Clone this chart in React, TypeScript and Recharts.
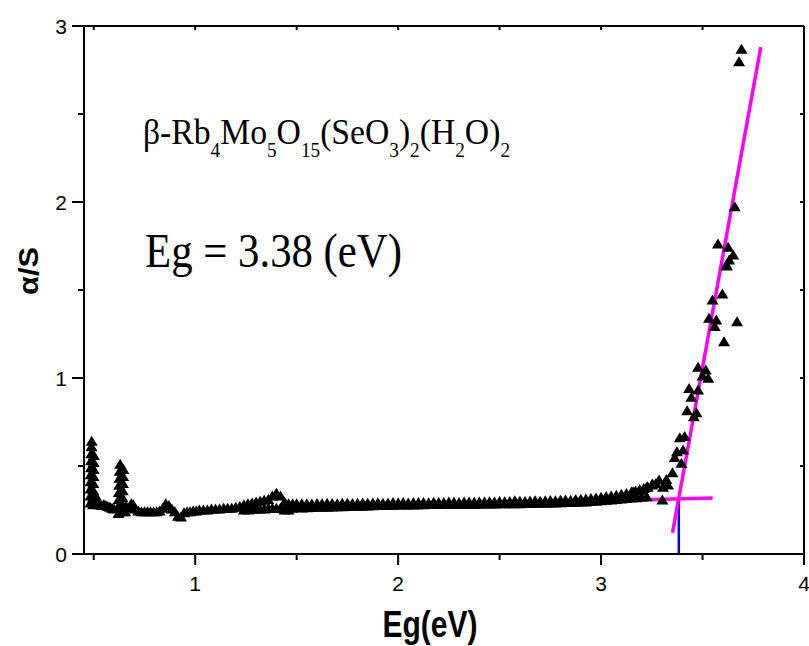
import { ReferenceLine, Scatter, ScatterChart, XAxis, YAxis } from "recharts";

// #region Data
const spikeEg = [
  0.484, 0.484, 0.484, 0.484, 0.485, 0.486, 0.487, 0.488, 0.489, 0.49,
  0.497, 0.497, 0.498, 0.498, 0.499, 0.5, 0.5, 0.501, 0.506, 0.51,
  0.622, 0.622, 0.623, 0.624, 0.625, 0.627, 0.628, 0.63,
  0.64, 0.641, 0.642, 0.643, 0.644, 0.645, 0.646, 0.655, 0.66,
];
const spikeAlpha = [
  0.29, 0.33, 0.37, 0.41, 0.45, 0.49, 0.53, 0.57, 0.61, 0.64,
  0.28, 0.32, 0.36, 0.4, 0.44, 0.48, 0.52, 0.56, 0.3, 0.33,
  0.23, 0.27, 0.31, 0.35, 0.39, 0.43, 0.47, 0.51,
  0.24, 0.28, 0.32, 0.36, 0.4, 0.44, 0.48, 0.24, 0.27,
];

const baseEg = [
  0.515, 0.52, 0.53, 0.54, 0.55, 0.56, 0.57, 0.58, 0.59, 0.6,
  0.675, 0.685, 0.695, 0.705, 0.72, 0.735, 0.75, 0.765, 0.78, 0.795,
  0.81, 0.825, 0.84, 0.855, 0.87, 0.885, 0.9, 0.915, 0.93, 0.945,
  0.96, 0.975, 0.99, 1.005, 1.02, 1.04, 1.06, 1.08, 1.1, 1.12,
  1.14, 1.16, 1.18, 1.2, 1.22,
  1.24, 1.24, 1.26, 1.26, 1.28, 1.28, 1.3, 1.3, 1.32, 1.32, 1.34, 1.34,
  1.36, 1.36, 1.38, 1.38, 1.4, 1.4, 1.42, 1.42, 1.44, 1.44, 1.46, 1.46,
  1.48, 1.48, 1.5, 1.5,
];
const baseAlpha = [
  0.29, 0.285, 0.28, 0.275, 0.28, 0.275, 0.27, 0.265, 0.26, 0.255,
  0.26, 0.285, 0.28, 0.255, 0.245, 0.24, 0.24, 0.24, 0.24, 0.24,
  0.24, 0.245, 0.26, 0.285, 0.275, 0.255, 0.24, 0.215, 0.21, 0.235,
  0.24, 0.24, 0.245, 0.245, 0.25, 0.25, 0.25, 0.255, 0.255, 0.255,
  0.26, 0.26, 0.26, 0.265, 0.27,
  0.25, 0.28, 0.25, 0.285, 0.255, 0.29, 0.255, 0.295, 0.255, 0.3, 0.255, 0.305,
  0.26, 0.31, 0.26, 0.33, 0.26, 0.345, 0.26, 0.33, 0.25, 0.295, 0.25, 0.285,
  0.26, 0.285, 0.265, 0.285,
];

const flatEg = [
  1.525, 1.55, 1.575, 1.6, 1.625, 1.65, 1.675, 1.7, 1.725, 1.75,
  1.775, 1.8, 1.825, 1.85, 1.875, 1.9, 1.925, 1.95, 1.975, 2.0,
  2.025, 2.05, 2.075, 2.1, 2.125, 2.15, 2.175, 2.2, 2.225, 2.25,
  2.275, 2.3, 2.325, 2.35, 2.375, 2.4, 2.425, 2.45, 2.475, 2.5,
  2.525, 2.55, 2.575, 2.6, 2.625, 2.65, 2.675, 2.7, 2.725, 2.75,
  2.775, 2.8, 2.825, 2.85, 2.875, 2.9, 2.925, 2.95, 2.975, 3.0,
];
const flatUpper = [
  0.285, 0.286, 0.284, 0.287, 0.286, 0.288, 0.287, 0.286, 0.288, 0.289,
  0.287, 0.289, 0.29, 0.288, 0.29, 0.291, 0.289, 0.29, 0.292, 0.291,
  0.292, 0.29, 0.293, 0.292, 0.293, 0.291, 0.294, 0.293, 0.292, 0.295,
  0.294, 0.293, 0.295, 0.296, 0.294, 0.296, 0.295, 0.297, 0.296, 0.298,
  0.297, 0.299, 0.302, 0.3, 0.299, 0.301, 0.302, 0.3, 0.303, 0.304,
  0.303, 0.306, 0.307, 0.306, 0.309, 0.311, 0.312, 0.315, 0.318, 0.322,
];
const flatLower = [
  0.262, 0.263, 0.264, 0.265, 0.266, 0.266, 0.267, 0.268, 0.269, 0.27,
  0.271, 0.271, 0.272, 0.273, 0.274, 0.275, 0.275, 0.276, 0.277, 0.278,
  0.278, 0.279, 0.279, 0.28, 0.28, 0.281, 0.281, 0.281, 0.282, 0.282,
  0.282, 0.282, 0.283, 0.283, 0.283, 0.283, 0.284, 0.284, 0.284, 0.285,
  0.285, 0.285, 0.286, 0.286, 0.287, 0.287, 0.288, 0.288, 0.289, 0.29,
  0.29, 0.291, 0.292, 0.293, 0.294, 0.295, 0.296, 0.298, 0.3, 0.302,
];

const riseEg = [
  3.025, 3.05, 3.075, 3.1, 3.125, 3.15, 3.17, 3.19, 3.21, 3.23, 3.25, 3.27,
  3.025, 3.05, 3.075, 3.1, 3.125, 3.15, 3.175, 3.2, 3.225,
  3.158, 3.191, 3.224, 3.253, 3.286, 3.302, 3.305, 3.322, 3.33, 3.352,
  3.363, 3.374, 3.388, 3.396, 3.404, 3.412, 3.424, 3.434, 3.445, 3.457,
  3.47, 3.478, 3.478, 3.5, 3.516, 3.528, 3.532, 3.549, 3.56, 3.568,
  3.576, 3.598, 3.606, 3.618, 3.62, 3.626, 3.631, 3.651, 3.659, 3.67,
  3.68, 3.692,
];
const riseAlpha = [
  0.326, 0.33, 0.334, 0.34, 0.344, 0.352, 0.358, 0.364, 0.372, 0.38, 0.392, 0.4,
  0.305, 0.307, 0.31, 0.312, 0.315, 0.318, 0.32, 0.322, 0.325,
  0.354, 0.364, 0.379, 0.398, 0.42, 0.307, 0.379, 0.424, 0.392, 0.462,
  0.549, 0.581, 0.661, 0.515, 0.591, 0.667, 0.814, 0.941, 0.89, 0.78,
  0.803, 1.061, 0.932, 1.011, 1.045, 0.998, 1.339, 1.443, 1.292, 1.33,
  1.761, 1.477, 1.206, 1.642, 1.636, 1.743, 1.67, 1.699, 1.973, 1.32,
  2.797, 2.868,
];

// fitted lines and the band gap marker
const baselineFit = [
  { x: 1.03, y: 0.245 },
  { x: 3.55, y: 0.318 },
];
const edgeFit = [
  { x: 3.352, y: 0.121 },
  { x: 3.787, y: 2.88 },
];
const gapMark = [
  { x: 3.383, y: 0 },
  { x: 3.383, y: 0.313 },
];

const xTicks = [0.5, 1, 1.5, 2, 2.5, 3, 3.5, 4];
const yTicks = [0, 0.5, 1, 1.5, 2, 2.5, 3];
// #endregion

const xDomain = [0.452, 4];
const yDomain = [0, 3];

// plot box (same numbers as the chart margins below)
const plot = { left: 84, top: 26, width: 720, height: 528 };
const xPerPx = (xDomain[1] - xDomain[0]) / plot.width;
const yPerPx = (yDomain[1] - yDomain[0]) / plot.height;
const tickX = (v: number) => plot.left + (v - xDomain[0]) / xPerPx;
const tickY = (v: number) => plot.top + (yDomain[1] - v) / yPerPx;

const toPoints = (xs: number[], ys: number[]) =>
  xs.map((eg, i) => ({ eg, alpha: ys[i] }));

const triangle = (props: any) => {
  const { cx, cy } = props;
  return (
    <polygon
      points={`${cx},${cy - 5.5} ${cx - 6},${cy + 4.5} ${cx + 6},${cy + 4.5}`}
      fill="#000"
    />
  );
};

const sans = "'Liberation Sans', Arial, sans-serif";
const serif = "'Liberation Serif', 'Times New Roman', serif";
const axisStroke = { stroke: "#000", strokeWidth: 2 };

const XLabel = ({ x, y, payload }: any) =>
  Number.isInteger(payload.value) ? (
    <text x={x} y={y + 37} textAnchor="middle" fontSize={21} fontFamily={sans} fill="#000">
      {payload.value}
    </text>
  ) : (
    <g />
  );

const YLabel = ({ x, y, payload }: any) =>
  Number.isInteger(payload.value) ? (
    <text x={x - 17} y={y + 8} textAnchor="end" fontSize={21} fontFamily={sans} fill="#000">
      {payload.value}
    </text>
  ) : (
    <g />
  );

const innerTick = (key: string, a: { x: number; y: number }, b: { x: number; y: number }) => (
  <ReferenceLine key={key} segment={[a, b]} ifOverflow="visible" stroke="#000" strokeWidth={2} />
);

const App = () => (
  <div style={{ position: "absolute", left: 0, top: 0, width: 809, height: 646, background: "#fff" }}>
    <ScatterChart width={809} height={646} margin={{ top: 26, right: 5, bottom: 62, left: 54 }}>
      <XAxis
        type="number"
        dataKey="eg"
        domain={xDomain}
        ticks={xTicks}
        height={30}
        tickSize={0}
        tickMargin={0}
        tickLine={false}
        tick={<XLabel />}
        axisLine={axisStroke}
      />
      <YAxis
        type="number"
        dataKey="alpha"
        domain={yDomain}
        ticks={yTicks}
        width={30}
        tickSize={0}
        tickMargin={0}
        tickLine={false}
        tick={<YLabel />}
        axisLine={axisStroke}
      />
      <Scatter data={toPoints(spikeEg, spikeAlpha)} shape={triangle} isAnimationActive={false} />
      <Scatter data={toPoints(baseEg, baseAlpha)} shape={triangle} isAnimationActive={false} />
      <Scatter data={toPoints(flatEg, flatUpper)} shape={triangle} isAnimationActive={false} />
      <Scatter data={toPoints(flatEg, flatLower)} shape={triangle} isAnimationActive={false} />
      <Scatter data={toPoints(riseEg, riseAlpha)} shape={triangle} isAnimationActive={false} />
      <ReferenceLine segment={gapMark} stroke="#0000ff" strokeWidth={2.5} />
      <ReferenceLine segment={baselineFit} stroke="#ff00ff" strokeWidth={3.5} />
      <ReferenceLine segment={edgeFit} stroke="#ff00ff" strokeWidth={3.5} />

      {/* frame: top and right edges with small inner ticks */}
      <ReferenceLine y={3} stroke="#000" strokeWidth={2} />
      <ReferenceLine x={4} stroke="#000" strokeWidth={2} />
      {xTicks.map((v) => innerTick(`xt${v}`, { x: v, y: 3 }, { x: v, y: 3 - 4 * yPerPx }))}
      {yTicks.map((v) => innerTick(`yr${v}`, { x: 4, y: v }, { x: 4 - 4 * xPerPx, y: v }))}
    </ScatterChart>
    <svg
      width={809}
      height={646}
      style={{ position: "absolute", left: 0, top: 0, pointerEvents: "none" }}
    >
      {/* outer tick marks of the bottom and left axes */}
      {xTicks.map((v) => (
        <line
          key={`xb${v}`}
          x1={tickX(v)}
          x2={tickX(v)}
          y1={plot.top + plot.height}
          y2={plot.top + plot.height + (Number.isInteger(v) ? 11 : 6)}
          stroke="#000"
          strokeWidth={2}
        />
      ))}
      {yTicks.map((v) => (
        <line
          key={`yl${v}`}
          x1={plot.left - (Number.isInteger(v) ? 12 : 6)}
          x2={plot.left}
          y1={tickY(v)}
          y2={tickY(v)}
          stroke="#000"
          strokeWidth={2}
        />
      ))}
      <text
        x={38}
        y={271}
        transform="rotate(-90 38 271)"
        textAnchor="middle"
        fontSize={28}
        fontWeight="bold"
        fontFamily={sans}
        textLength={48}
        lengthAdjust="spacingAndGlyphs"
      >
        α/S
      </text>
      <text
        x={430}
        y={637}
        textAnchor="middle"
        fontSize={36}
        fontWeight="bold"
        fontFamily={sans}
        textLength={95}
        lengthAdjust="spacingAndGlyphs"
      >
        Eg(eV)
      </text>
      <text x={143} y={144} fontSize={35} fontFamily={serif} textLength={367} lengthAdjust="spacingAndGlyphs">
        β-Rb<tspan fontSize={20} dy={13}>4</tspan>
        <tspan dy={-13}>Mo</tspan>
        <tspan fontSize={20} dy={13}>5</tspan>
        <tspan dy={-13}>O</tspan>
        <tspan fontSize={20} dy={13}>15</tspan>
        <tspan dy={-13}>(SeO</tspan>
        <tspan fontSize={20} dy={13}>3</tspan>
        <tspan dy={-13}>)</tspan>
        <tspan fontSize={20} dy={13}>2</tspan>
        <tspan dy={-13}>(H</tspan>
        <tspan fontSize={20} dy={13}>2</tspan>
        <tspan dy={-13}>O)</tspan>
        <tspan fontSize={20} dy={13}>2</tspan>
      </text>
      <text x={145} y={267} fontSize={48} fontFamily={serif} textLength={257} lengthAdjust="spacingAndGlyphs">
        Eg = 3.38 (eV)
      </text>
    </svg>
  </div>
);

export default App;
